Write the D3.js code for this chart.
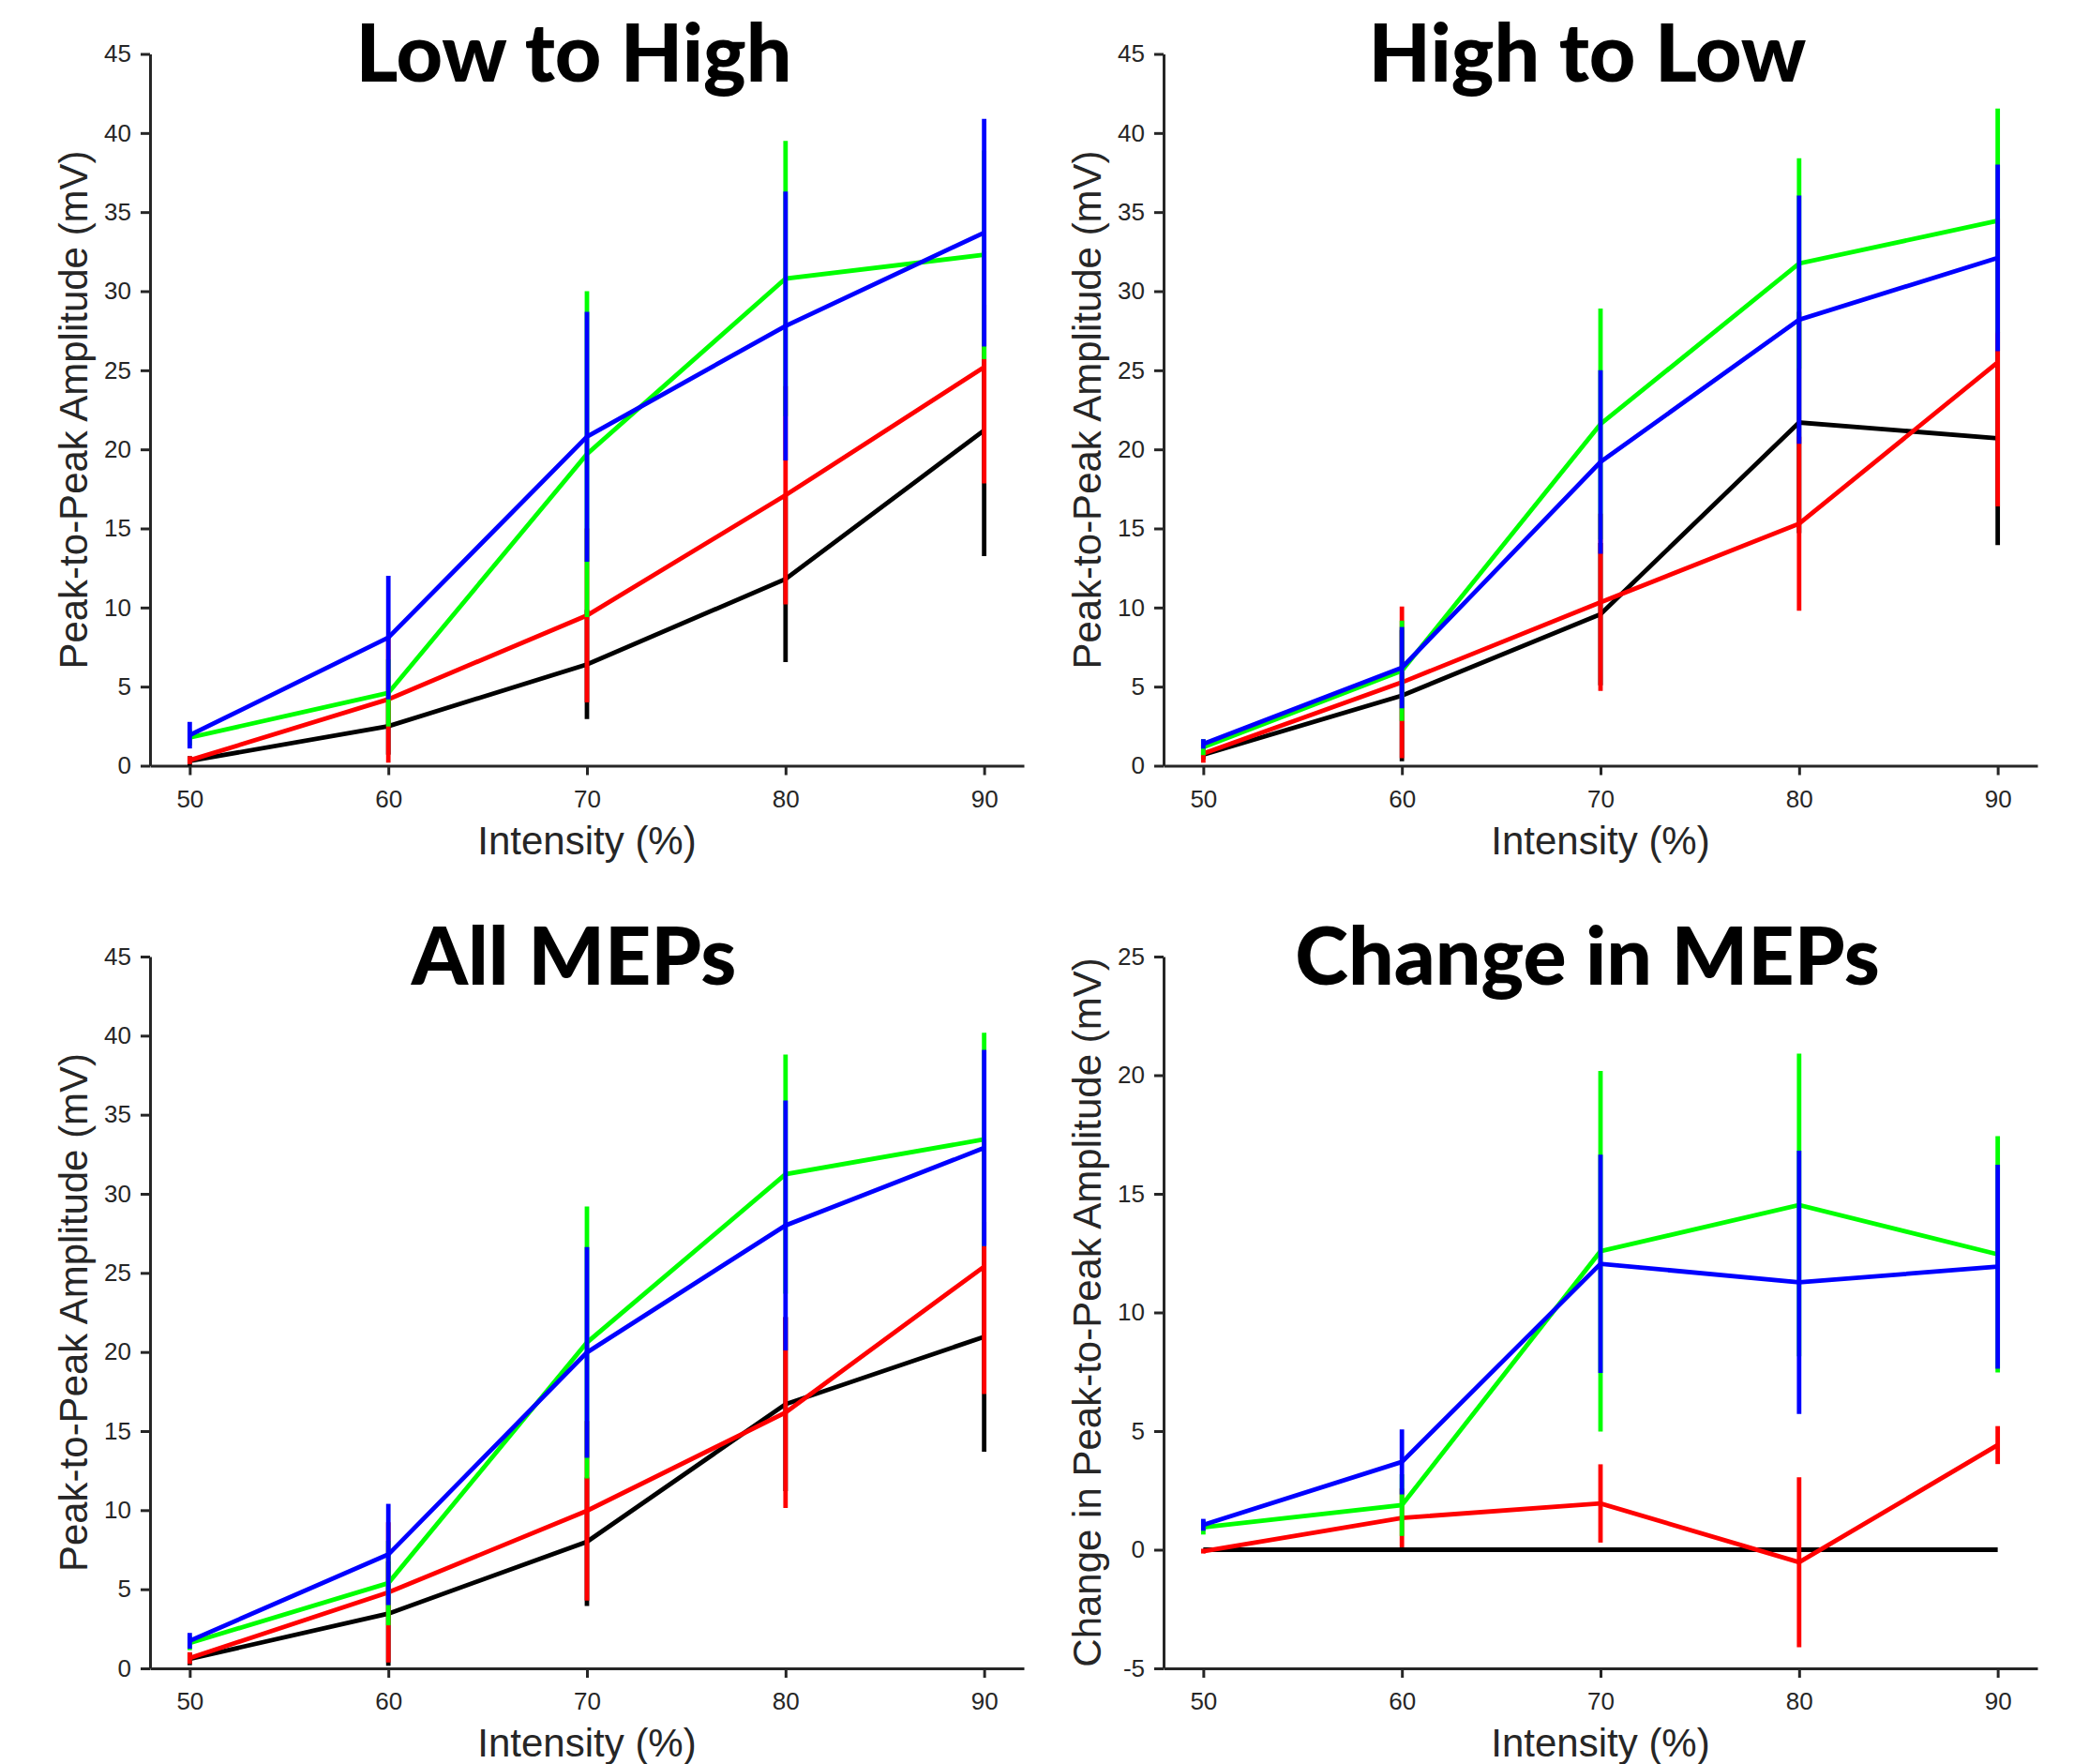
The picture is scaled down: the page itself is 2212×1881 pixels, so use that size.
<!DOCTYPE html>
<html>
<head>
<meta charset="utf-8">
<script src="https://cdn.jsdelivr.net/npm/d3@7"></script>
<style>
  body { margin: 0; background: #fff; }
  svg { display: block; }
</style>
</head>
<body>
<svg id="chart" width="2212" height="1881"></svg>
<script>
const intensity = [50, 60, 70, 80, 90];
const seriesColours = ["#000000", "#ff0000", "#00ff00", "#0000ff"];

// rows: black, red, green, blue
const lowHighMeans = [
    [0.3, 2.5, 6.4, 11.8, 21.2],
    [0.35, 4.2, 9.5, 17.1, 25.2],
    [1.78, 4.6, 19.7, 30.8, 32.3],
    [1.93, 8.1, 20.8, 27.8, 33.7]
];
const lowHighErrs = [
    [0.3, 1.8, 3.45, 5.25, 7.95],
    [0.25, 4.0, 5.5, 6.9, 7.35],
    [0.5, 2.12, 10.3, 8.7, 6.6],
    [0.84, 3.9, 7.9, 8.5, 7.2]
];

const highLowMeans = [
    [0.7, 4.43, 9.58, 21.7, 20.7],
    [0.77, 5.27, 10.33, 15.3, 25.5],
    [1.17, 6.0, 21.6, 31.75, 34.45],
    [1.38, 6.2, 19.2, 28.2, 32.1]
];
const highLowErrs = [
    [0.3, 4.15, 4.5, 7.0, 6.75],
    [0.58, 4.8, 5.6, 5.5, 9.1],
    [0.5, 3.17, 7.3, 6.65, 7.1],
    [0.3, 2.57, 5.8, 7.85, 5.9]
];

const allMeans = [
    [0.6, 3.46, 8.0, 16.7, 20.96],
    [0.65, 4.8, 9.96, 16.17, 25.4],
    [1.6, 5.39, 20.6, 31.24, 33.44],
    [1.74, 7.2, 19.97, 28.0, 32.9]
];
const allErrs = [
    [0.4, 3.3, 4.06, 5.5, 7.26],
    [0.37, 4.43, 5.67, 6.03, 8.06],
    [0.45, 2.67, 8.6, 7.56, 6.74],
    [0.5, 3.2, 6.66, 7.9, 6.2]
];

const changeMeans = [
    [0, 0, 0, 0, 0],
    [-0.06, 1.34, 1.95, -0.53, 4.41],
    [0.94, 1.88, 12.58, 14.53, 12.45],
    [1.05, 3.7, 12.05, 11.27, 11.93]
];
const changeErrs = [
    [0, 0, 0, 0, 0],
    [0.1, 1.24, 1.65, 3.58, 0.8],
    [0.3, 1.3, 7.6, 6.38, 4.98],
    [0.25, 1.37, 4.6, 5.55, 4.3]
];

const ampTicks = [0, 5, 10, 15, 20, 25, 30, 35, 40, 45];
const changeTicks = [-5, 0, 5, 10, 15, 20, 25];

const panels = [
    { title: "Low to High", means: lowHighMeans, errs: lowHighErrs, ticks: ampTicks, ylabel: "Peak-to-Peak Amplitude (mV)", left: 160, top: 57.5 },
    { title: "High to Low", means: highLowMeans, errs: highLowErrs, ticks: ampTicks, ylabel: "Peak-to-Peak Amplitude (mV)", left: 1241, top: 57.5 },
    { title: "All MEPs", means: allMeans, errs: allErrs, ticks: ampTicks, ylabel: "Peak-to-Peak Amplitude (mV)", left: 160, top: 1020 },
    { title: "Change in MEPs", means: changeMeans, errs: changeErrs, ticks: changeTicks, ylabel: "Change in Peak-to-Peak Amplitude (mV)", left: 1241, top: 1020 }
];

const plotW = 932, plotH = 759;
const axisColour = "#262626";
const svg = d3.select("#chart");

function drawPanel(p) {
    const g = svg.append("g").attr("transform", `translate(${p.left},${p.top})`);

    const x = d3.scaleLinear().domain([48, 92]).range([0, plotW]);
    const y = d3.scaleLinear().domain(d3.extent(p.ticks)).range([plotH, 0]);

    const xAxis = d3.axisBottom(x).tickValues(intensity).tickSize(10).tickSizeOuter(0).tickPadding(16);
    // plain hyphen for negatives, like the original
    const yAxis = d3.axisLeft(y).tickValues(p.ticks).tickFormat(d => String(d))
        .tickSize(10).tickSizeOuter(0).tickPadding(10);

    const gx = g.append("g").attr("transform", `translate(0,${plotH})`).call(xAxis);
    const gy = g.append("g").call(yAxis);

    [gx, gy].forEach(a => {
        a.select(".domain").attr("stroke", axisColour).attr("stroke-width", 3);
        a.selectAll(".tick line").attr("stroke", axisColour).attr("stroke-width", 3);
        a.selectAll(".tick text")
            .attr("fill", axisColour)
            .style("font-family", "'Liberation Sans', Arial, sans-serif")
            .style("font-size", "26px");
    });

    const line = d3.line().x((d, i) => x(intensity[i])).y(d => y(d));

    p.means.forEach((vals, s) => {
        g.append("path")
            .attr("d", line(vals))
            .attr("fill", "none")
            .attr("stroke", seriesColours[s])
            .attr("stroke-width", 4.8);

        g.selectAll(null)
            .data(vals.map((v, i) => ({ x: intensity[i], v: v, e: p.errs[s][i] })).filter(d => d.e > 0))
            .enter().append("line")
            .attr("x1", d => x(d.x))
            .attr("x2", d => x(d.x))
            .attr("y1", d => y(d.v - d.e))
            .attr("y2", d => y(d.v + d.e))
            .attr("stroke", seriesColours[s])
            .attr("stroke-width", 4.8);
    });

    g.append("text")
        .attr("x", plotW / 2)
        .attr("y", plotH + 94)
        .attr("text-anchor", "middle")
        .attr("fill", axisColour)
        .style("font-family", "'Liberation Sans', Arial, sans-serif")
        .style("font-size", "42px")
        .text("Intensity (%)");

    g.append("text")
        .attr("transform", `translate(-67,${plotH / 2}) rotate(-90)`)
        .attr("text-anchor", "middle")
        .attr("fill", axisColour)
        .style("font-family", "'Liberation Sans', Arial, sans-serif")
        .style("font-size", "42px")
        .text(p.ylabel);

    g.append("text")
        .attr("x", plotW / 2 - 14)
        .attr("y", 29.5)
        .attr("text-anchor", "middle")
        .attr("fill", "#000")
        .style("font-family", "Lato, 'Open Sans', sans-serif")
        .style("font-weight", "900")
        .style("font-size", "86px")
        .text(p.title);
}

panels.forEach(drawPanel);
</script>
</body>
</html>
